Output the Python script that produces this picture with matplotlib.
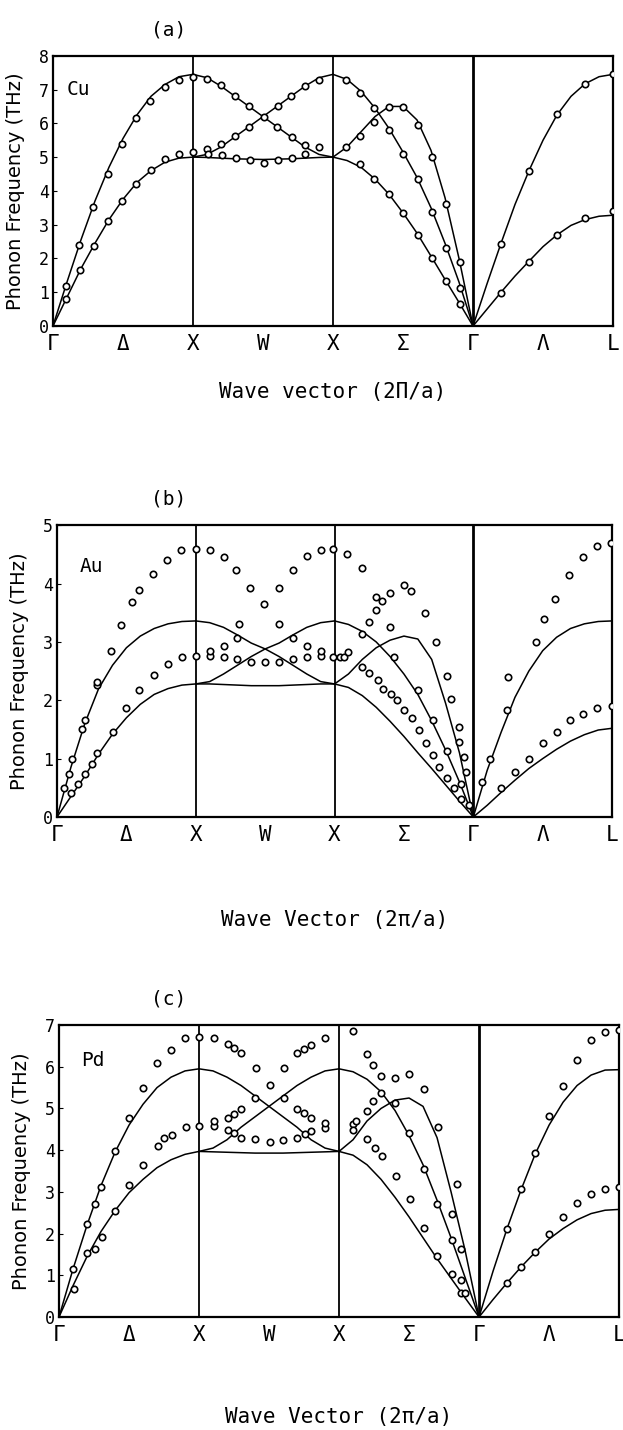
import matplotlib
matplotlib.use('Agg')
import matplotlib.pyplot as plt

# symmetry points along the path
k_ticks = [0, 0.5, 1, 1.5, 2, 2.5, 3, 3.5, 4]
k_labels = ['Γ', 'Δ', 'X', 'W', 'X', 'Σ', 'Γ', 'Λ', 'L']

# k grid of each segment (Γ-X, X-W-X, X-Σ-Γ, Γ-Λ-L)
k_delta = [0.0, 0.1, 0.2, 0.3, 0.4, 0.5, 0.6, 0.7, 0.8, 0.9, 1.0]
k_w = [1.0, 1.1, 1.2, 1.3, 1.4, 1.5, 1.6, 1.7, 1.8, 1.9, 2.0]
k_sigma = [2.0, 2.1, 2.2, 2.3, 2.4, 2.5, 2.6, 2.7, 2.8, 2.9, 3.0]
k_lambda = [3.0, 3.1, 3.2, 3.3, 3.4, 3.5, 3.6, 3.7, 3.8, 3.9, 4.0]

# ---- Cu (a) ----
cu_delta_up = [0, 1.3, 2.55, 3.7, 4.7, 5.55, 6.25, 6.8, 7.15, 7.38, 7.45]
cu_delta_lo = [0, 0.85, 1.7, 2.45, 3.15, 3.75, 4.25, 4.6, 4.85, 4.97, 5.0]
cu_w_down = [7.45, 7.35, 7.1, 6.8, 6.5, 6.2, 5.9, 5.6, 5.3, 5.08, 5.0]
cu_w_up = [5.0, 5.08, 5.3, 5.6, 5.9, 6.2, 6.5, 6.8, 7.1, 7.35, 7.45]
cu_w_flat = [5.0, 4.99, 4.97, 4.95, 4.94, 4.93, 4.94, 4.95, 4.97, 4.99, 5.0]
cu_sig_up = [7.45, 7.3, 6.95, 6.45, 5.85, 5.15, 4.4, 3.5, 2.45, 1.3, 0]
cu_sig_mid = [5.0, 5.3, 5.75, 6.2, 6.5, 6.5, 6.1, 5.2, 3.8, 2.0, 0]
cu_sig_lo = [5.0, 4.9, 4.7, 4.35, 3.9, 3.35, 2.75, 2.07, 1.38, 0.7, 0]
cu_lam_up = [0, 1.25, 2.45, 3.6, 4.6, 5.5, 6.25, 6.8, 7.17, 7.38, 7.45]
cu_lam_lo = [0, 0.5, 1.0, 1.48, 1.92, 2.35, 2.7, 2.98, 3.15, 3.25, 3.28]

cu_k_exp = [0.09, 0.185, 0.285, 0.39, 0.49, 0.59, 0.69, 0.8, 0.9, 1.0,
            0.09, 0.19, 0.29, 0.39, 0.49, 0.59, 0.7, 0.8, 0.9, 1.0,
            1.1, 1.2, 1.3, 1.4, 1.51, 1.6, 1.71, 1.8, 1.9,
            1.1, 1.2, 1.3, 1.4, 1.61, 1.7, 1.8, 1.9,
            1.11, 1.21, 1.31, 1.41, 1.51, 1.61, 1.71, 1.8,
            2.09, 2.19, 2.29, 2.4, 2.5, 2.61, 2.71, 2.81, 2.91,
            2.09, 2.19, 2.29, 2.4, 2.5, 2.61, 2.71, 2.81, 2.91,
            2.19, 2.29, 2.4, 2.5, 2.61, 2.71, 2.81, 2.91,
            3.2, 3.4, 3.6, 3.8, 4.0,
            3.2, 3.4, 3.6, 3.8, 4.0]
cu_f_exp = [1.18, 2.4, 3.52, 4.5, 5.4, 6.15, 6.67, 7.08, 7.27, 7.37,
            0.8, 1.65, 2.38, 3.1, 3.7, 4.2, 4.62, 4.93, 5.1, 5.15,
            7.3, 7.12, 6.8, 6.52, 6.18, 5.9, 5.6, 5.35, 5.3,
            5.25, 5.38, 5.62, 5.9, 6.5, 6.8, 7.1, 7.28,
            5.08, 5.05, 4.98, 4.92, 4.83, 4.9, 4.97, 5.08,
            7.27, 6.9, 6.45, 5.8, 5.1, 4.35, 3.38, 2.3, 1.12,
            5.3, 5.62, 6.05, 6.48, 6.47, 5.95, 5.0, 3.62, 1.9,
            4.8, 4.35, 3.9, 3.35, 2.7, 2.0, 1.32, 0.65,
            2.42, 4.58, 6.27, 7.15, 7.45,
            0.98, 1.9, 2.7, 3.2, 3.4]

# ---- Au (b) ----
au_delta_up = [0, 0.85, 1.6, 2.2, 2.6, 2.9, 3.1, 3.23, 3.31, 3.35, 3.36]
au_delta_lo = [0, 0.35, 0.7, 1.08, 1.42, 1.7, 1.93, 2.1, 2.2, 2.26, 2.28]
au_w_down = [3.36, 3.33, 3.25, 3.12, 2.98, 2.88, 2.75, 2.6, 2.45, 2.32, 2.28]
au_w_up = [2.28, 2.32, 2.45, 2.6, 2.75, 2.88, 2.98, 3.12, 3.25, 3.33, 3.36]
au_w_flat = [2.28, 2.28, 2.27, 2.26, 2.25, 2.25, 2.25, 2.26, 2.27, 2.28, 2.28]
au_sig_up = [3.36, 3.3, 3.18, 3.0, 2.75, 2.45, 2.1, 1.65, 1.15, 0.6, 0]
au_sig_mid = [2.28, 2.45, 2.7, 2.9, 3.03, 3.1, 3.05, 2.7, 1.95, 1.1, 0]
au_sig_lo = [2.28, 2.22, 2.08, 1.88, 1.64, 1.38, 1.1, 0.83, 0.55, 0.27, 0]
au_lam_up = [0, 0.8, 1.45, 2.05, 2.5, 2.85, 3.08, 3.23, 3.31, 3.35, 3.36]
au_lam_lo = [0, 0.2, 0.42, 0.63, 0.83, 1.0, 1.16, 1.3, 1.41, 1.49, 1.52]

au_k_exp = [0.05, 0.09, 0.11, 0.18, 0.2, 0.29, 0.29, 0.39, 0.46, 0.54, 0.59, 0.69, 0.79, 0.89, 1.0,
            0.1, 0.15, 0.2, 0.25, 0.29, 0.4, 0.5, 0.59, 0.7, 0.8, 0.9, 1.0,
            1.1, 1.2, 1.29, 1.39, 1.49, 1.6, 1.7, 1.8, 1.9, 1.99,
            1.2, 1.3, 1.31, 1.6, 1.7, 1.8,
            1.1, 1.1, 1.2, 1.3, 1.4, 1.5, 1.6, 1.7, 1.8, 1.9, 1.9, 1.99,
            2.09, 2.2, 2.3, 2.34, 2.3, 2.25, 2.4, 2.5, 2.55, 2.65, 2.73, 2.81, 2.84, 2.9, 2.9, 2.93, 2.95,
            2.2, 2.4, 2.43, 2.6, 2.71, 2.81, 2.91,
            2.04, 2.07, 2.1, 2.2, 2.25, 2.31, 2.35, 2.41, 2.45, 2.5, 2.56, 2.61, 2.66, 2.71, 2.75, 2.81,
            2.86, 2.91, 2.97,
            3.06, 3.12, 3.24, 3.25, 3.45, 3.51, 3.59, 3.69, 3.79, 3.89, 3.99,
            3.2, 3.3, 3.4, 3.5, 3.6, 3.7, 3.79, 3.89, 4.0]
au_f_exp = [0.49, 0.74, 1.0, 1.51, 1.66, 2.26, 2.32, 2.85, 3.29, 3.69, 3.89, 4.17, 4.4, 4.57, 4.6,
            0.41, 0.57, 0.74, 0.9, 1.09, 1.46, 1.86, 2.17, 2.43, 2.62, 2.74, 2.76,
            4.57, 4.46, 4.24, 3.93, 3.65, 3.93, 4.23, 4.47, 4.58, 4.6,
            2.93, 3.07, 3.3, 3.3, 3.07, 2.93,
            2.76, 2.84, 2.74, 2.71, 2.66, 2.66, 2.66, 2.7, 2.74, 2.76, 2.84, 2.74,
            4.51, 4.26, 3.77, 3.71, 3.54, 3.34, 3.84, 3.97, 3.87, 3.5, 3.0, 2.41, 2.03, 1.54, 1.29, 1.03, 0.77,
            3.14, 3.25, 2.74, 2.17, 1.66, 1.13, 0.57,
            2.74, 2.74, 2.83, 2.57, 2.46, 2.35, 2.2, 2.11, 2.0, 1.83, 1.69, 1.49, 1.26, 1.06, 0.86, 0.66,
            0.49, 0.31, 0.2,
            0.6, 1.0, 1.83, 2.4, 3.0, 3.4, 3.74, 4.14, 4.46, 4.64, 4.7,
            0.49, 0.77, 1.0, 1.26, 1.46, 1.66, 1.77, 1.87, 1.9]

# ---- Pd (c) ----
pd_delta_up = [0, 1.15, 2.2, 3.15, 3.95, 4.6, 5.1, 5.5, 5.75, 5.9, 5.95]
pd_delta_lo = [0, 0.75, 1.45, 2.05, 2.55, 2.98, 3.3, 3.58, 3.77, 3.9, 3.97]
pd_w_down = [5.95, 5.9, 5.75, 5.55, 5.3, 5.05, 4.8, 4.55, 4.25, 4.05, 3.97]
pd_w_up = [3.97, 4.05, 4.25, 4.55, 4.8, 5.05, 5.3, 5.55, 5.75, 5.9, 5.95]
pd_w_flat = [3.97, 3.96, 3.95, 3.94, 3.93, 3.93, 3.93, 3.94, 3.95, 3.96, 3.97]
pd_sig_up = [5.95, 5.88, 5.7, 5.4, 4.95, 4.35, 3.65, 2.8, 1.9, 0.95, 0]
pd_sig_mid = [3.97, 4.25, 4.7, 5.0, 5.2, 5.25, 5.05, 4.3, 3.0, 1.6, 0]
pd_sig_lo = [3.97, 3.88, 3.65, 3.3, 2.87, 2.4, 1.9, 1.4, 0.93, 0.46, 0]
pd_lam_up = [0, 1.1, 2.12, 3.05, 3.9, 4.6, 5.15, 5.55, 5.8, 5.92, 5.93]
pd_lam_lo = [0, 0.42, 0.82, 1.2, 1.55, 1.87, 2.12, 2.33, 2.48, 2.56, 2.58]

pd_k_exp = [0.1, 0.2, 0.26, 0.3, 0.4, 0.5, 0.6, 0.7, 0.8, 0.9, 1.0,
            0.11, 0.2, 0.26, 0.31, 0.4, 0.5, 0.6, 0.71, 0.75, 0.81, 0.91, 1.0,
            1.11, 1.21, 1.25, 1.3, 1.41, 1.51, 1.61, 1.7, 1.75, 1.8, 1.9,
            1.11, 1.11, 1.21, 1.25, 1.3, 1.4, 1.51, 1.6, 1.7, 1.76, 1.8, 1.9, 1.9,
            1.21, 1.25, 1.3, 1.4, 1.61, 1.7, 1.75, 1.8,
            2.1, 2.2, 2.24, 2.3, 2.4, 2.5, 2.61, 2.71,
            2.1, 2.12, 2.1, 2.2, 2.24, 2.3, 2.4, 2.5, 2.61, 2.7, 2.81, 2.84, 2.81, 2.87, 2.87, 2.87,
            2.2, 2.26, 2.31, 2.41, 2.51, 2.61, 2.7, 2.81, 2.9,
            3.2, 3.3, 3.4, 3.5, 3.6, 3.7, 3.8, 3.9, 4.0,
            3.2, 3.3, 3.4, 3.5, 3.6, 3.7, 3.8, 3.9, 4.0]
pd_f_exp = [1.16, 2.22, 2.72, 3.12, 3.98, 4.78, 5.48, 6.08, 6.4, 6.68, 6.72,
            0.68, 1.54, 1.62, 1.92, 2.54, 3.16, 3.64, 4.1, 4.28, 4.36, 4.56, 4.58,
            6.7, 6.54, 6.44, 6.32, 5.96, 5.56, 5.96, 6.32, 6.42, 6.52, 6.7,
            4.58, 4.7, 4.48, 4.4, 4.3, 4.26, 4.2, 4.24, 4.3, 4.38, 4.46, 4.54, 4.66,
            4.76, 4.86, 4.98, 5.26, 5.26, 4.98, 4.88, 4.76,
            6.86, 6.3, 6.04, 5.78, 5.72, 5.82, 5.46, 4.56,
            4.62, 4.7, 4.48, 4.94, 5.18, 5.38, 5.12, 4.42, 3.54, 2.72, 1.84, 3.2, 2.48, 1.64, 0.88, 0.58,
            4.26, 4.06, 3.86, 3.38, 2.82, 2.14, 1.46, 1.04, 0.58,
            2.12, 3.08, 3.94, 4.82, 5.54, 6.16, 6.64, 6.84, 6.88,
            0.82, 1.2, 1.56, 2.0, 2.4, 2.74, 2.96, 3.06, 3.12]

mono = 'DejaVu Sans Mono'


def draw_panel(rect, curves, k_exp, f_exp, ymax, metal, metal_xy, tag, xlabel, xlabel_y):
    ax = fig.add_axes(rect)
    segs = [k_delta, k_delta, k_w, k_w, k_w, k_sigma, k_sigma, k_sigma, k_lambda, k_lambda]
    for k, f in zip(segs, curves):
        ax.plot(k, f, color='black', lw=1.1)
    ax.plot(k_exp, f_exp, 'o', ms=4.6, mfc='white', mec='black', mew=1.2, zorder=3)
    for xv in [1, 2]:
        ax.axvline(xv, color='black', lw=1.3)
    ax.axvline(3, color='black', lw=2.0)
    ax.set_xlim(0, 4)
    ax.set_ylim(0, ymax)
    ax.set_xticks(k_ticks)
    ax.set_xticklabels(k_labels, fontsize=15, family=mono)
    ax.set_yticks(range(ymax + 1))
    ax.set_yticklabels([str(v) for v in range(ymax + 1)], fontsize=12, family=mono)
    ax.tick_params(axis='x', length=0, pad=6)
    ax.tick_params(axis='y', direction='in', length=3, pad=3)
    for sp in ax.spines.values():
        sp.set_linewidth(1.6)
    ax.set_ylabel('Phonon Frequency (THz)', fontsize=14)
    # keep the label inside the figure for every panel
    ax.yaxis.set_label_coords(-0.045 - rect[0] * 0.05, 0.5)
    ax.text(metal_xy[0], metal_xy[1], metal, fontsize=14, family=mono, va='center', ha='left')
    left, bottom, width, height = rect
    fig.text(0.27, bottom + height + 0.018, tag, fontsize=14, family=mono, ha='center', va='center')
    fig.text(left + width / 2, xlabel_y, xlabel, fontsize=15, family=mono, ha='center', va='center')
    return ax


fig = plt.figure(figsize=(6.23, 14.3), dpi=100)

draw_panel([0.085, 0.772, 0.899, 0.189],
           [cu_delta_up, cu_delta_lo, cu_w_down, cu_w_up, cu_w_flat,
            cu_sig_up, cu_sig_mid, cu_sig_lo, cu_lam_up, cu_lam_lo],
           cu_k_exp, cu_f_exp, 8, 'Cu', (0.1, 7.0), '(a)',
           'Wave vector (2Π/a)', 1 - 392 / 1430)

draw_panel([0.0915, 0.4287, 0.891, 0.204],
           [au_delta_up, au_delta_lo, au_w_down, au_w_up, au_w_flat,
            au_sig_up, au_sig_mid, au_sig_lo, au_lam_up, au_lam_lo],
           au_k_exp, au_f_exp, 5, 'Au', (0.16, 4.3), '(b)',
           'Wave Vector (2π/a)', 1 - 920 / 1430)

draw_panel([0.0947, 0.079, 0.899, 0.2042],
           [pd_delta_up, pd_delta_lo, pd_w_down, pd_w_up, pd_w_flat,
            pd_sig_up, pd_sig_mid, pd_sig_lo, pd_lam_up, pd_lam_lo],
           pd_k_exp, pd_f_exp, 7, 'Pd', (0.16, 6.15), '(c)',
           'Wave Vector (2π/a)', 1 - 1417 / 1430)

fig.savefig('out.png', dpi=100)
